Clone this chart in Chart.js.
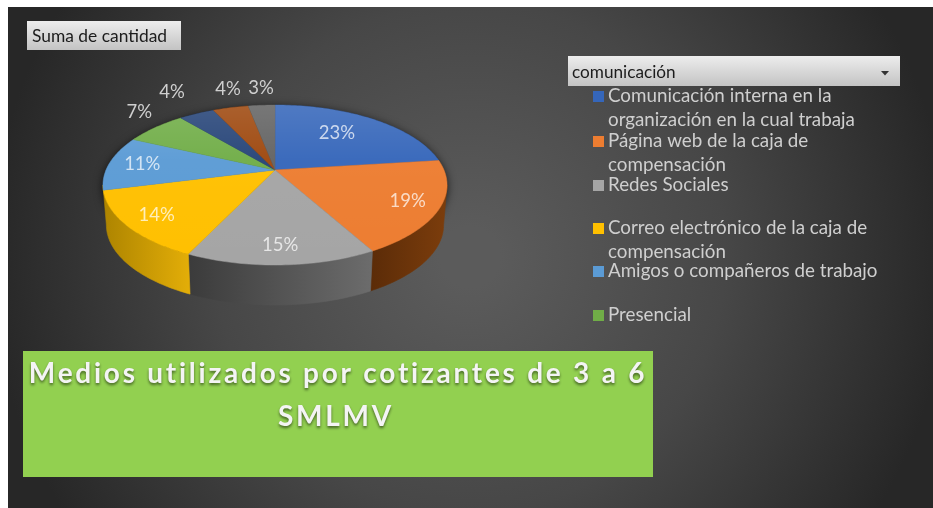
<!DOCTYPE html>
<html><head><meta charset="utf-8">
<script src="https://cdn.jsdelivr.net/npm/chart.js@4"></script>
<style>
html,body{margin:0;padding:0;background:#fff;width:933px;height:508px;overflow:hidden}
#wrap{position:absolute;left:0;top:0;width:933px;height:508px}
canvas{display:block;filter:blur(.35px)}
</style></head><body>
<div id="wrap"><canvas id="c" width="933" height="508"></canvas></div>
<script>
const categories = ['Comunicación interna en la organización en la cual trabaja','Página web de la caja de compensación','Redes Sociales','Correo electrónico de la caja de compensación','Amigos o compañeros de trabajo','Presencial','(no visible)','(no visible)','(no visible)'];
const values = [23,19,15,14,11,7,4,4,3];
const sliceColors = ['#3566ba','#ed7d31','#a5a5a5','#ffc000','#5b9bd5','#70ad47','#264478','#9e480e','#636363'];
const sideColors = [['#264a85','#264a85'],['#7c3d0c','#5c2c08'],['#6c6c6c','#3b3b3b'],['#e2ad08','#ad8400'],['#3f78ad','#3f78ad'],['#4f7d32','#4f7d32'],['#1a2f55','#1a2f55'],['#6e3209','#6e3209'],['#444','#444']];
const legendLines = [
  [['Comunicación interna en la',96],['organización en la cual trabaja',120]],
  [['Página web de la caja de',141],['compensación',165]],
  [['Redes Sociales',185]],
  [['Correo electrónico de la caja de',228],['compensación',252]],
  [['Amigos o compañeros de trabajo',271]],
  [['Presencial',315]]
];
const titleLines = ['Medios utilizados por cotizantes de 3 a 6','SMLMV'];
const fieldLabel = 'Suma de cantidad';
const filterLabel = 'comunicación';
const FONT='Lato, "Open Sans", sans-serif';

// perspective view of the pie plane
const P={cx:275,cy:170,a:169,b:77.2,k:0.1875,depth:40,taper:.98};
const labelRadius=[.6,.82,.82,.82,.8,1.15,1.386,1.073,1.05];
const labelLift=[-5,0,0,0,0,-10,-4,-15,-14];
function project(ang,r){ // chart.js arc angle (0 = 3 o'clock, clockwise)
  const u=r*Math.cos(ang), v=r*Math.sin(ang), w=1-P.k*v;
  return [P.cx+P.a*u/w, P.cy+P.b*v/w];
}
function rimPath(ctx,s,e){
  const n=Math.max(2,Math.ceil((e-s)/0.02));
  for(let i=0;i<=n;i++){const p=project(s+(e-s)*i/n,1);ctx.lineTo(p[0],p[1]);}
}
const backdrop={id:'backdrop',beforeDraw(ch){
  const c=ch.ctx;c.save();
  c.fillStyle='#fff';c.fillRect(0,0,933,508);
  const g=c.createRadialGradient(470,257,30,470,257,480);
  g.addColorStop(0,'#5b5b5b');g.addColorStop(0.5,'#474747');g.addColorStop(1,'#272727');
  c.fillStyle=g;c.fillRect(8,7,925,501);
  c.restore();
}};
function drawPie(ch){
  const c=ch.ctx, arcs=ch.getDatasetMeta(0).data;
  c.save();
  c.save();c.shadowColor='rgba(0,0,0,.75)';c.shadowBlur=10;c.shadowOffsetY=2;c.fillStyle='#333';
  c.beginPath();
  rimPath(c,0,Math.PI*2);c.closePath();c.translate(0,P.depth);c.fill();c.restore();
  const lo=Math.asin(P.k), hi=Math.PI-lo;
  const vis=arcs.map((a,i)=>i).filter(i=>{const m=(arcs[i].startAngle+arcs[i].endAngle)/2;return m>-0.01&&m<hi;});
  vis.forEach((i,idx)=>{
    const a=arcs[i];
    const s=Math.max(a.startAngle,lo), e=idx===vis.length-1?hi:Math.min(a.endAngle,hi);
    const p0=project(s,1),p1=project(e,1);
    const g=c.createLinearGradient(p0[0],0,p1[0],0);
    g.addColorStop(0,sideColors[i][0]);g.addColorStop(1,sideColors[i][1]);
    c.fillStyle=g;c.strokeStyle=g;c.lineWidth=.6;
    c.beginPath();
    rimPath(c,s,e);
    const n=Math.max(2,Math.ceil((e-s)/0.02));
    for(let j=n;j>=0;j--){const p=project(s+(e-s)*j/n,1);c.lineTo(P.cx+(p[0]-P.cx)*P.taper,p[1]+P.depth);}
    c.closePath();c.fill();c.stroke();
  });
  arcs.forEach((a,i)=>{
    const g=c.createLinearGradient(0,P.cy-65,0,P.cy+95);
    g.addColorStop(0,'rgba(255,255,255,.13)');g.addColorStop(.35,'rgba(255,255,255,.03)');g.addColorStop(1,'rgba(255,255,255,0)');
    c.beginPath();c.moveTo(P.cx,P.cy);rimPath(c,a.startAngle,a.endAngle);c.closePath();
    c.fillStyle=a.options.backgroundColor;c.fill();
    c.strokeStyle=a.options.backgroundColor;c.lineWidth=.5;c.stroke();
    c.fillStyle=g;c.fill();
  });
  c.font='18.5px '+FONT;c.textAlign='center';c.textBaseline='middle';
  const total=values.reduce((s,v)=>s+v,0);
  arcs.forEach((a,i)=>{
    const p=project((a.startAngle+a.endAngle)/2,labelRadius[i]);
    c.fillStyle=labelRadius[i]>1?'#cfcfcf':'rgba(255,255,255,.72)';
    c.fillText(Math.round(values[i]/total*100)+'%',p[0],p[1]+labelLift[i]);
  });
  c.restore();
}
const pie3d={id:'pie3d',beforeDatasetsDraw(ch){drawPie(ch);return false;}};
const overlay={id:'overlay',afterDraw(ch){
  const c=ch.ctx;c.save();
  function btn(x,y,w,h){const g=c.createLinearGradient(0,y,0,y+h);g.addColorStop(0,'#ededed');g.addColorStop(1,'#c3c3c3');c.fillStyle=g;c.fillRect(x,y,w,h);}
  btn(27,21,154,29);
  c.fillStyle='#1c1c1c';c.font='17.4px '+FONT;c.textBaseline='middle';c.textAlign='left';
  c.fillText(fieldLabel,32,36);
  btn(568,56,332,30);
  c.font='17.2px '+FONT;
  c.fillStyle='#1c1c1c';c.fillText(filterLabel,572,72);
  c.fillStyle='#333';c.beginPath();c.moveTo(881,71);c.lineTo(889,71);c.lineTo(885,75.5);c.closePath();c.fill();
  c.font='18.8px '+FONT;
  legendLines.forEach((lines,i)=>{
    c.fillStyle=sliceColors[i];
    c.fillRect(593,lines[0][1]-5,11,11);
    c.fillStyle='#cfcfcf';
    lines.forEach(l=>c.fillText(l[0],608,l[1]));
  });
  c.fillStyle='#92d050';c.fillRect(23,351,630,126);
  c.font='bold 28px '+FONT;c.textAlign='center';c.fillStyle='#f4f4f4';
  c.letterSpacing='2.75px';
  c.shadowColor='rgba(40,60,20,.75)';c.shadowBlur=3;c.shadowOffsetY=2;
  c.fillText(titleLines[0],338,374);
  c.fillText(titleLines[1],336,417);
  c.restore();
}};
new Chart(document.getElementById('c'),{
  type:'pie',
  data:{labels:categories,datasets:[{data:values,backgroundColor:sliceColors,borderWidth:0}]},
  options:{responsive:false,animation:false,
    plugins:{legend:{display:false},tooltip:{enabled:false},title:{display:false}}},
  plugins:[backdrop,pie3d,overlay]
});
</script>
</body></html>
